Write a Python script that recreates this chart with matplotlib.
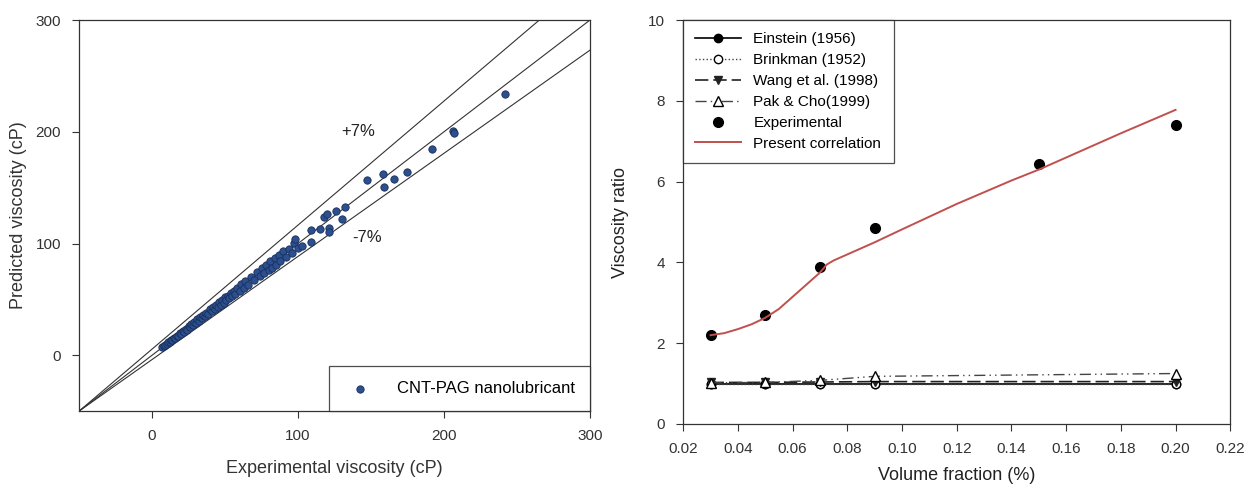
import matplotlib
matplotlib.use("Agg")
import matplotlib.pyplot as plt
import numpy as np

plt.rcParams['font.family'] = ['Liberation Sans', 'DejaVu Sans']

# left panel: experimental vs predicted viscosity (cP)
exp_visc = [7, 8, 9, 10, 11, 12, 13, 14, 15, 16, 17, 18, 19, 20, 21, 22, 23, 24, 25, 26,
            27, 28, 29, 30, 31, 32, 33, 34, 35, 36, 37, 38, 40, 41, 42, 43, 44, 45, 46, 47,
            48, 49, 50, 51, 52, 53, 54, 55, 56, 57, 58, 60, 61, 63, 64, 66, 68, 70, 72, 74,
            75, 77, 78, 80, 81, 82, 84, 85, 87, 88, 90, 92, 94, 96, 97, 98, 100, 103, 109, 109,
            115, 118, 120, 121, 121, 126, 130, 132, 147, 158, 159, 166, 175, 192, 206, 207, 242]
pred_visc = [7.5, 8.2, 9.4, 9.7, 11.5, 11.6, 13.4, 13.6, 15.5, 15.4, 17.6, 17.3, 19.7, 19.2,
             21.8, 21.1, 23.9, 23.0, 25.8, 25.0, 27.9, 27.0, 29.8, 29.0, 32.0, 30.8, 34.1, 32.9,
             36.2, 34.7, 38.0, 36.8, 41.2, 39.6, 43.5, 41.5, 45.3, 43.4, 47.6, 45.2, 49.5, 47.0,
             51.8, 49.3, 53.4, 51.0, 55.6, 53.2, 57.5, 54.8, 60.5, 57.4, 63.5, 60.0, 66.2, 63.0,
             70.3, 67.0, 74.5, 70.8, 77.8, 73.6, 80.5, 76.5, 84.0, 78.2, 86.8, 81.0, 90.0, 84.5,
             93.5, 88.0, 95.0, 91.5, 100.5, 104.0, 96.0, 98.0, 112.0, 101.0, 113.0, 124.0, 126.0,
             114.0, 110.0, 129.0, 122.0, 133.0, 157.0, 162.0, 151.0, 158.0, 164.0, 185.0, 201.0,
             199.0, 234.0]
band_slopes = [1.11, 1.0, 0.923]   # +7%, parity, -7% lines (drawn from lower-left corner)

# right panel: viscosity ratio vs volume fraction
phi_model = [0.03, 0.05, 0.07, 0.09, 0.20]
einstein = [1.0, 1.0, 1.0, 1.0, 1.0]
brinkman = [1.0, 1.0, 1.0, 1.0, 1.0]
wang = [1.03, 1.03, 1.04, 1.05, 1.05]
pak_cho = [1.02, 1.03, 1.08, 1.18, 1.25]
phi_exp = [0.03, 0.05, 0.07, 0.09, 0.15, 0.20]
ratio_exp = [2.2, 2.7, 3.9, 4.85, 6.45, 7.4]
phi_corr = [0.03, 0.035, 0.04, 0.045, 0.05, 0.055, 0.06, 0.065, 0.07, 0.0725, 0.075,
            0.08, 0.09, 0.10, 0.12, 0.14, 0.15, 0.16, 0.18, 0.20]
ratio_corr = [2.2, 2.25, 2.35, 2.47, 2.63, 2.85, 3.15, 3.45, 3.75, 3.95, 4.05,
              4.2, 4.5, 4.82, 5.45, 6.03, 6.3, 6.6, 7.2, 7.78]

fig = plt.figure(figsize=(12.49, 4.9), dpi=100)
ax1 = fig.add_axes([0.0633, 0.161, 0.409, 0.798])
ax2 = fig.add_axes([0.547, 0.1347, 0.438, 0.824])

# ---- left
for s in band_slopes:
    ax1.axline((-50, -50), slope=s, color='#333333', lw=0.8, zorder=1)
ax1.scatter(exp_visc, pred_visc, s=28, color='#2b4f8f', edgecolor='#1a2f5a', lw=0.6,
            zorder=3, label='CNT-PAG nanolubricant')
ax1.text(141, 200, '+7%', fontsize=12, ha='center', va='center', color='#222222')
ax1.text(147, 105, '-7%', fontsize=12, ha='center', va='center', color='#222222')
ax1.set_xlim(-50, 300)
ax1.set_ylim(-50, 300)
ax1.set_xticks([0, 100, 200, 300])
ax1.set_yticks([0, 100, 200, 300])
ax1.set_xlabel('Experimental viscosity (cP)', fontsize=13, color='#333333', labelpad=12)
ax1.set_ylabel('Predicted viscosity (cP)', fontsize=13, color='#333333', labelpad=6)
leg1 = ax1.legend(loc='lower right', fontsize=12, frameon=True, fancybox=False,
                  edgecolor='#222222', borderpad=0.9, handletextpad=1.2, borderaxespad=0)
leg1.get_frame().set_linewidth(0.9)

# ---- right
ax2.plot(phi_model, einstein, '-', color='black', marker='o', ms=6, lw=1.2,
         label='Einstein (1956)')
ax2.plot(phi_model, brinkman, ':', color='#444444', marker='o', ms=6, mfc='white',
         mec='black', lw=1.0, label='Brinkman (1952)')
ax2.plot(phi_model, wang, '--', color='#222222', marker='v', ms=6, lw=1.2, dashes=(8, 3),
         label='Wang et al. (1998)')
ax2.plot(phi_model, pak_cho, color='#444444', marker='^', ms=7, mfc='white', mec='black',
         lw=1.0, dashes=(8, 3, 1, 3, 1, 3), label='Pak & Cho(1999)')
ax2.plot(phi_exp, ratio_exp, 'o', color='black', ms=7, label='Experimental')
ax2.plot(phi_corr, ratio_corr, '-', color='#c0504d', lw=1.4, label='Present correlation')
ax2.set_xlim(0.02, 0.22)
ax2.set_ylim(0, 10)
ax2.set_xticks(np.arange(0.02, 0.2201, 0.02))
ax2.set_xticklabels(['0.02', '0.04', '0.06', '0.08', '0.10', '0.12', '0.14', '0.16',
                     '0.18', '0.20', '0.22'])
ax2.set_yticks([0, 2, 4, 6, 8, 10])
ax2.set_xlabel('Volume fraction (%)', fontsize=13, color='#222222', labelpad=8)
ax2.set_ylabel('Viscosity ratio', fontsize=13, color='#222222', labelpad=14)
leg2 = ax2.legend(loc='upper left', fontsize=11, frameon=True, fancybox=False,
                  edgecolor='#222222', borderaxespad=0, handlelength=3.0, labelspacing=0.45,
                  borderpad=0.8)
leg2.get_frame().set_linewidth(0.9)

for ax in (ax1, ax2):
    ax.tick_params(direction='out', length=5, labelsize=11, colors='#333333', pad=8)
    for sp in ax.spines.values():
        sp.set_linewidth(0.9)
        sp.set_color('#333333')

fig.savefig('out.png', dpi=100)
